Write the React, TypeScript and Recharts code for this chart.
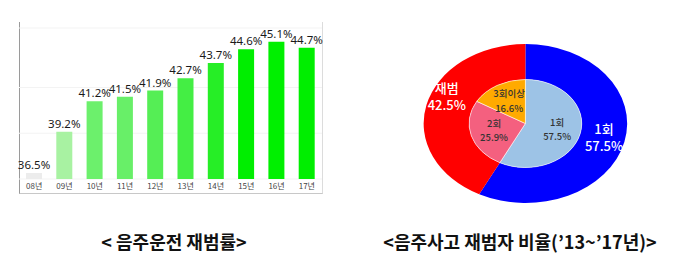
import React from 'react';
import { BarChart, Bar, XAxis, YAxis, CartesianGrid, LabelList, Cell, PieChart, Pie } from 'recharts';

const years = ['08년', '09년', '10년', '11년', '12년', '13년', '14년', '15년', '16년', '17년'];
const repeatRates = [36.5, 39.2, 41.2, 41.5, 41.9, 42.7, 43.7, 44.6, 45.1, 44.7];
const barColors = ['#ececec', '#a8f2a2', '#6cf06c', '#68ef68', '#55ee55', '#44ee44', '#26ee26', '#00ee00', '#00f000', '#00ee00'];

const outerNames = ['1회', '재범'];
const outerValues = [57.5, 42.5];
const outerColors = ['#0000ff', '#ff0000'];
const outerNudge = [0, -12];

const innerNames = ['1회', '2회', '3회이상'];
const innerValues = [57.5, 25.9, 16.6];
const innerColors = ['#9dc3e6', '#f4607f', '#ffaa00'];

const barData = years.map((year, i) => ({ year, rate: repeatRates[i] }));
const outerData = outerNames.map((name, i) => ({ name, value: outerValues[i] }));
const innerData = innerNames.map((name, i) => ({ name, value: innerValues[i] }));

const SX = 1.28;
const RAD = Math.PI / 180;
const FONT = '"Noto Sans CJK KR", "Noto Sans", sans-serif';

// two-line slice label (name / value), drawn un-stretched inside the scaled pie
const makeLabel = (frac: number, size: number, color: string, weight: number, gap: number, nudge?: number[]) =>
  (props: any) => {
    const { cx, cy, midAngle, innerRadius, outerRadius, name, value, index } = props;
    const r = innerRadius + (outerRadius - innerRadius) * frac;
    const x = cx + r * Math.cos(-midAngle * RAD);
    const y = cy + r * Math.sin(-midAngle * RAD) + (nudge ? nudge[index] : 0);
    const t = `translate(${x},${y}) scale(${1 / SX},1)`;
    return (
      <g transform={t}>
        <text x={0} y={-gap / 2 + size * 0.35} textAnchor="middle" fill={color} fontSize={size} fontWeight={weight} fontFamily={FONT}>
          {name}
        </text>
        <text x={0} y={gap / 2 + size * 0.35} textAnchor="middle" fill={color} fontSize={size} fontWeight={weight} fontFamily={FONT}>
          {value.toFixed(1)}%
        </text>
      </g>
    );
  };

export default function App() {
  return (
    <div style={{ position: 'relative', margin: -8, width: 700, height: 267, background: '#fff', fontFamily: FONT }}>
      <div
        style={{
          position: 'absolute',
          left: 19,
          top: 22,
          width: 302,
          height: 171,
          borderLeft: '1.5px solid #9a9a9a',
          borderRight: '1px solid #dcdcdc',
          borderBottom: '1px solid #c8c8c8',
        }}
      />
      <div style={{ position: 'absolute', left: 0, top: 0 }}>
        <BarChart width={340} height={200} data={barData} margin={{ top: 28, right: 18, left: 19, bottom: 0 }} barCategoryGap={7}>
          <CartesianGrid vertical={false} stroke="#f3f3f3" />
          <XAxis
            dataKey="year"
            height={21}
            axisLine={false}
            tickLine={false}
            tickSize={0}
            tickMargin={4}
            tick={{ fontSize: 8, fill: '#444', fontFamily: FONT }}
            interval={0}
          />
          <YAxis hide domain={[36.1, 46]} allowDataOverflow />
          <Bar dataKey="rate" isAnimationActive={false}>
            {barData.map((d, i) => (
              <Cell key={d.year} fill={barColors[i]} />
            ))}
            <LabelList
              dataKey="rate"
              position="top"
              offset={4}
              formatter={(v: any) => `${v}%`}
              style={{ fontSize: 11.5, fill: '#1a1a1a', fontFamily: '"Noto Sans", sans-serif' }}
            />
          </Bar>
        </BarChart>
      </div>
      <div style={{ position: 'absolute', left: 419, top: 0, width: 200, height: 237, transform: `scaleX(${SX})`, transformOrigin: '100px 118px' }}>
        <PieChart width={200} height={237}>
          <Pie
            data={outerData}
            dataKey="value"
            cx={100}
            cy={118.5}
            innerRadius={44}
            outerRadius={79.5}
            startAngle={90}
            endAngle={-270}
            stroke="none"
            labelLine={false}
            label={makeLabel(0.54, 13, '#ffffff', 500, 17, outerNudge)}
            isAnimationActive={false}
          >
            {outerData.map((d, i) => (
              <Cell key={d.name} fill={outerColors[i]} />
            ))}
          </Pie>
          <Pie
            data={innerData}
            dataKey="value"
            cx={100}
            cy={118.5}
            innerRadius={0}
            outerRadius={44}
            startAngle={90}
            endAngle={-270}
            stroke="#ffffff"
            strokeWidth={0.5}
            labelLine={false}
            label={makeLabel(0.58, 9.5, '#333333', 500, 14.5)}
            isAnimationActive={false}
          >
            {innerData.map((d, i) => (
              <Cell key={d.name} fill={innerColors[i]} />
            ))}
          </Pie>
        </PieChart>
      </div>
      <div style={{ position: 'absolute', left: 54, width: 240, top: 228, textAlign: 'center', fontSize: 18, fontWeight: 700, color: '#111' }}>
        &lt; 음주운전 재범률&gt;
      </div>
      <div style={{ position: 'absolute', left: 350, width: 340, top: 228, textAlign: 'center', fontSize: 18, fontWeight: 700, color: '#111' }}>
        &lt;음주사고 재범자 비율(’13~’17년)&gt;
      </div>
    </div>
  );
}
